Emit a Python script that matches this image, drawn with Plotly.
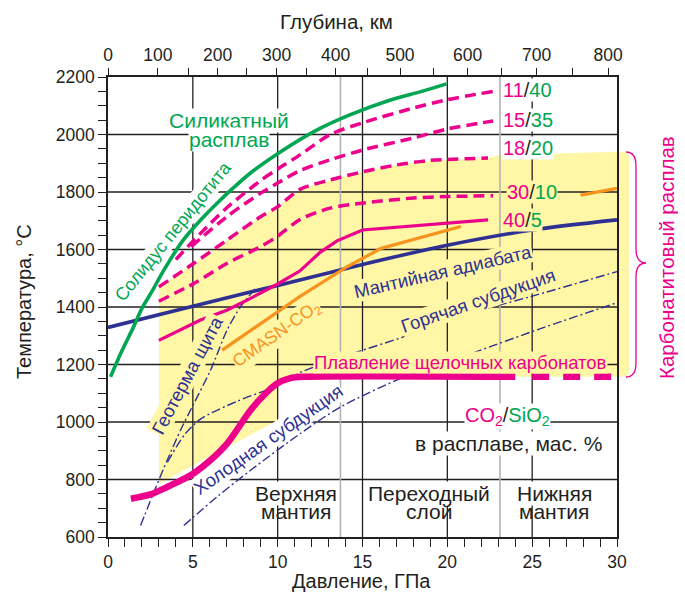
import plotly.graph_objects as go

FONT = "Liberation Sans, Arial, Helvetica, sans-serif"
INK = "#231f20"
GREEN = "#00a651"
MAGENTA = "#ec008c"
NAVY = "#2e3192"
ORANGE = "#f7941d"
YELLOW = "#fff6a6"
GREY = "#b3b3b3"

W, H = 685, 601
ML, MR, MT, MB = 108, 68, 77, 64
PW, PH = W - ML - MR, H - MT - MB

# ---------------- data ----------------
P_RANGE = [0, 30]
T_RANGE = [600, 2200]
P_ticks = [0, 5, 10, 15, 20, 25, 30]
T_ticks = [600, 800, 1000, 1200, 1400, 1600, 1800, 2000, 2200]

depth_P = [0, 2.94, 4.73, 6.46, 8.19, 9.94, 11.67, 13.41, 15.32, 17.21, 19.21,
           21.19, 23.22, 25.26, 27.35, 29.47]
depth_lbl = ["0", "100", "", "200", "", "300", "", "400", "", "500", "", "600",
             "", "700", "", "800"]
disc_P = [13.7, 23.1]  # 410 km and 660 km

green_P = [0.15, 0.8, 1.5, 2.0, 2.6, 3.3, 4.4, 5.5, 6.43, 7.4, 8.4, 10.36, 12.33,
           14.29, 16.65, 18.5, 19.95]
green_T = [1157, 1245, 1330, 1395, 1455, 1529, 1630, 1705, 1761, 1815, 1866, 1947,
           2016, 2069, 2120, 2150, 2176]

c11_P = [4.0, 5.45, 7.0, 9.0, 10.0, 11.34, 13.1, 15.07, 18.0, 20.0, 22.7]
c11_T = [1565, 1656, 1745, 1840, 1880, 1930, 2000, 2042, 2092, 2121, 2150]
c15_P = [4.9, 7.0, 9.0, 10.0, 11.34, 13.1, 15.07, 18.0, 20.0, 22.7]
c15_T = [1610, 1714, 1796, 1831, 1875, 1912, 1947, 1988, 2019, 2047]
c18_P = [3.0, 5.06, 7.02, 8.99, 10.0, 11.34, 13.1, 15.07, 17.0, 19.0, 22.4]
c18_T = [1470, 1552, 1633, 1714, 1749, 1810, 1842, 1871, 1894, 1910, 1918]
c30_P = [3.0, 5.06, 7.02, 8.99, 9.97, 11.34, 13.1, 15.07, 18.0, 20.0, 22.7]
c30_T = [1420, 1482, 1552, 1610, 1645, 1705, 1744, 1762, 1779, 1784, 1787]
c40_P = [3.0, 5.45, 7.0, 8.4, 10.0, 11.3, 12.5, 13.5, 15.0, 17.0, 20.8, 22.4]
c40_T = [1284, 1355, 1389, 1430, 1480, 1525, 1590, 1630, 1668, 1678, 1697, 1703]

cmasn_P = [6.73, 11.3, 14.1, 16.1, 20.8]
cmasn_T = [1250, 1436, 1540, 1604, 1680]
cmasn2_P = [27.85, 30.0]
cmasn2_T = [1789, 1813]

adiabat_P = [0, 5, 10, 15, 20, 25, 30]
adiabat_T = [1329, 1403, 1475, 1548, 1615, 1668, 1703]

alk_P = [1.35, 2.5, 3.49, 4.3, 5.06, 6.0, 7.02, 8.4, 9.3, 9.97, 10.7, 11.5, 24.0]
alk_T = [733, 748, 774, 797, 822, 865, 925, 1041, 1100, 1134, 1152, 1157, 1157]
alk_dash_P = [25.0, 29.75]
alk_dash_T = [1157, 1157]

shield_P = [1.92, 2.8, 3.49, 4.3, 4.86, 6.04, 7.02, 7.8, 8.7]
shield_T = [640, 770, 867, 975, 1041, 1180, 1320, 1400, 1465]
hot_P = [3.5, 4.5, 5.45, 7.6, 9.77, 11.4, 14.1, 18.0, 19.6, 24.9, 30.0]
hot_T = [860, 955, 1010, 1072, 1122, 1174, 1232, 1308, 1349, 1436, 1523]
cold_P = [4.47, 6.43, 8.4, 11.34, 13.7, 17.6, 21.4, 25.5, 30.0]
cold_T = [640, 740, 832, 960, 1052, 1160, 1238, 1325, 1415]

# carbonatite-melt field (yellow): top follows 18/20 curve
field_top_P = c18_P + [23.1, 30.0]
field_top_T = c18_T + [1929, 1940]
field_bot_P = [30.0, 11.3, 10.0, 10.0, 3.0]
field_bot_T = [1157, 1157, 1135, 1005, 785]
field_over_P = 30.7  # yellow spills past the frame up to the brace


def px_x(P):
    return (P - P_RANGE[0]) / (P_RANGE[1] - P_RANGE[0])


def px_y(T):
    return (T - T_RANGE[0]) / (T_RANGE[1] - T_RANGE[0])


def paper_from_px(xp, yp):
    return (xp - ML) / PW, (H - MB - yp) / PH


fig = go.Figure()


def line(P, T, color, width, dash="solid", shape="spline", smooth=0.8):
    fig.add_trace(go.Scatter(x=P, y=T, mode="lines",
                             line=dict(color=color, width=width, dash=dash,
                                       shape=shape, smoothing=smooth if shape == "spline" else None),
                             showlegend=False, hoverinfo="skip"))


DD = "9px,3px,2px,3px"
line(shield_P, shield_T, NAVY, 1.4, DD)
line(hot_P, hot_T, NAVY, 1.4, DD)
line(cold_P, cold_T, NAVY, 1.4, DD)
line(adiabat_P, adiabat_T, NAVY, 3.6)
line(cmasn_P, cmasn_T, ORANGE, 3.2, shape="linear")
line(cmasn2_P, cmasn2_T, ORANGE, 3.2, shape="linear")
line(green_P, green_T, GREEN, 3.6)
DASH = "11px,6px"
line(c11_P, c11_T, MAGENTA, 3.5, DASH)
line(c15_P, c15_T, MAGENTA, 3.5, DASH)
line(c18_P, c18_T, MAGENTA, 3.5, DASH)
line(c30_P, c30_T, MAGENTA, 3.5, DASH)
line(c40_P, c40_T, MAGENTA, 3.2, shape="linear")
line(alk_P, alk_T, MAGENTA, 6.5)
line(alk_dash_P, alk_dash_T, MAGENTA, 6.5, "17px,14px", shape="linear")

# invisible trace activating the depth axis
fig.add_trace(go.Scatter(x=[0], y=[T_RANGE[0]], xaxis="x2", mode="markers",
                         marker=dict(opacity=0), showlegend=False, hoverinfo="skip"))

# ---------------- shapes ----------------
pts = list(zip(field_top_P, field_top_T)) + list(zip(field_bot_P, field_bot_T))
path = "M " + " L ".join(f"{p},{t}" for p, t in pts) + " Z"
shapes = [dict(type="path", path=path, xref="x", yref="y", fillcolor=YELLOW,
               line=dict(width=0), layer="below")]
# spill of the field beyond the right frame (paper coords)
x0, x1 = 1.0, px_x(field_over_P)
y0, y1 = px_y(field_bot_T[0]), px_y(field_top_T[-1])
r = 0.012
shapes.append(dict(type="path", xref="paper", yref="paper", layer="below",
                   fillcolor=YELLOW, line=dict(width=0),
                   path=(f"M {x0},{y0} L {x1 - r},{y0} Q {x1},{y0} {x1},{y0 + r} "
                         f"L {x1},{y1 - r} Q {x1},{y1} {x1 - r},{y1} L {x0},{y1} Z")))
# grid lines drawn over the yellow field
for p in P_ticks[1:-1]:
    shapes.append(dict(type="line", xref="x", yref="y", x0=p, x1=p,
                       y0=T_RANGE[0], y1=T_RANGE[1], line=dict(color=INK, width=1.3),
                       layer="below"))
for t in T_ticks[1:-1]:
    shapes.append(dict(type="line", xref="x", yref="y", x0=P_RANGE[0], x1=P_RANGE[1],
                       y0=t, y1=t, line=dict(color=INK, width=1.3), layer="below"))
for p in disc_P:
    shapes.append(dict(type="line", xref="x", yref="y", x0=p, x1=p,
                       y0=T_RANGE[0], y1=T_RANGE[1], line=dict(color=GREY, width=1.6),
                       layer="below"))

# brace
xi, xm, xt = 626, 636, 646
yt, ymid, yb = 152, 263, 377
def pp(x, y):
    a, b = paper_from_px(x, y)
    return f"{a:.4f},{b:.4f}"
brace = (f"M {pp(xi, yt)} Q {pp(xm, yt)} {pp(xm, yt + 14)} L {pp(xm, ymid - 14)} "
         f"Q {pp(xm, ymid)} {pp(xt, ymid)} Q {pp(xm, ymid)} {pp(xm, ymid + 14)} "
         f"L {pp(xm, yb - 14)} Q {pp(xm, yb)} {pp(xi, yb)}")
shapes.append(dict(type="path", xref="paper", yref="paper", path=brace,
                   line=dict(color=MAGENTA, width=1.3), layer="above"))

# ---------------- annotations ----------------
ann = []


def A(text, P, T, color=INK, size=18, angle=0, bg=None, **kw):
    d = dict(text=text, x=P, y=T, xref="x", yref="y", showarrow=False,
             font=dict(family=FONT, size=size, color=color), textangle=angle,
             xanchor="center", yanchor="middle", borderpad=0)
    if bg:
        d["bgcolor"] = bg
    d.update(kw)
    ann.append(d)


def frac(a, b):
    return (f"<span style='color:{MAGENTA}'>{a}</span>/"
            f"<span style='color:{GREEN}'>{b}</span>")


A("Силикатный", 7.12, 2049, GREEN, 21, bg="white")
A("расплав", 7.15, 1981, GREEN, 21, bg="white")
A("Солидус перидотита", 3.85, 1665, GREEN, 18, -51, bg="white")
A(frac(11, 40), 24.71, 2155, INK, 20, bg="white")
A(frac(15, 35), 24.76, 2052, INK, 20, bg="white")
A(frac(18, 20), 24.76, 1953, INK, 20, bg="white")
A(frac(30, 10), 24.99, 1800, INK, 20, bg=YELLOW)
A(frac(40, 5), 24.41, 1704, INK, 20, bg=YELLOW)
A("Мантийная адиабата", 19.75, 1522, NAVY, 18.5, -13, bg=YELLOW)
A("Горячая субдукция", 21.81, 1424, NAVY, 18.5, -19, bg=YELLOW)
A("Геотерма щита", 4.71, 1164, NAVY, 18.5, -62, bg=YELLOW)
A("Холодная субдукция", 9.45, 938, NAVY, 18.5, -35, bg="white")
A("CMASN-CO<sub>2</sub>", 9.98, 1303, ORANGE, 17.5, -35, bg=YELLOW)
A("Плавление щелочных карбонатов", 20.76, 1206, MAGENTA, 18.5, bg=YELLOW)
A(f"<span style='color:{MAGENTA}'>CO<sub>2</sub></span>/"
  f"<span style='color:{GREEN}'>SiO<sub>2</sub></span>", 23.52, 1020, INK, 20, bg="white")
A("в расплаве, мас. %", 23.58, 924, INK, 21, bg="white")
A("Верхняя", 11.1, 752, INK, 21, bg="white")
A("мантия", 11.1, 688, INK, 21)
A("Переходный", 18.93, 752, INK, 21, bg="white")
A("слой", 18.93, 688, INK, 21)
A("Нижняя", 26.3, 752, INK, 21, bg="white")
A("мантия", 26.3, 688, INK, 21)

lx, ly = paper_from_px(666, 258)
ann.append(dict(text="Карбонатитовый расплав", x=lx, y=ly, xref="paper", yref="paper",
                showarrow=False, textangle=-90, font=dict(family=FONT, size=20.5, color=MAGENTA),
                xanchor="center", yanchor="middle"))
tx, ty = paper_from_px(24, 302)
ann.append(dict(text="Температура, °C", x=tx, y=ty, xref="paper", yref="paper",
                showarrow=False, textangle=-90, font=dict(family=FONT, size=20, color=INK),
                xanchor="center", yanchor="middle"))
bx, by = paper_from_px(361, 581)
ann.append(dict(text="Давление, ГПа", x=bx, y=by, xref="paper", yref="paper",
                showarrow=False, font=dict(family=FONT, size=20, color=INK),
                xanchor="center", yanchor="middle"))
gx, gy = paper_from_px(336, 22)
ann.append(dict(text="Глубина, км", x=gx, y=gy, xref="paper", yref="paper",
                showarrow=False, font=dict(family=FONT, size=20.5, color=INK),
                xanchor="center", yanchor="middle"))

tickfont = dict(family=FONT, size=17.5, color=INK)
fig.update_layout(
    width=W, height=H, margin=dict(l=ML, r=MR, t=MT, b=MB),
    paper_bgcolor="white", plot_bgcolor="white", showlegend=False,
    shapes=shapes, annotations=ann,
    xaxis=dict(range=P_RANGE, tickmode="array", tickvals=P_ticks, ticks="outside",
               ticklen=8, tickwidth=1.2, tickcolor=INK, tickfont=tickfont,
               showgrid=False, zeroline=False,
               showline=True, linecolor=INK, linewidth=1.5, mirror=True,
               minor=dict(dtick=1, ticks="outside", ticklen=8, tickcolor=INK,
                          tickwidth=1.2, showgrid=False)),
    xaxis2=dict(range=P_RANGE, overlaying="x", side="top", tickmode="array",
                tickvals=depth_P, ticktext=depth_lbl, ticks="outside", ticklen=8,
                tickwidth=1.2, tickcolor=INK, tickfont=tickfont, showgrid=False,
                zeroline=False, showline=False),
    yaxis=dict(range=T_RANGE, tickmode="array", tickvals=T_ticks, ticks="outside",
               ticklen=8, tickwidth=1.2, tickcolor=INK, tickfont=tickfont,
               showgrid=False, zeroline=False,
               showline=True, linecolor=INK, linewidth=1.5, mirror=True,
               minor=dict(dtick=50, ticks="outside", ticklen=8, tickcolor=INK,
                          tickwidth=1.2, showgrid=False)),
)

fig.write_html("out.html")
